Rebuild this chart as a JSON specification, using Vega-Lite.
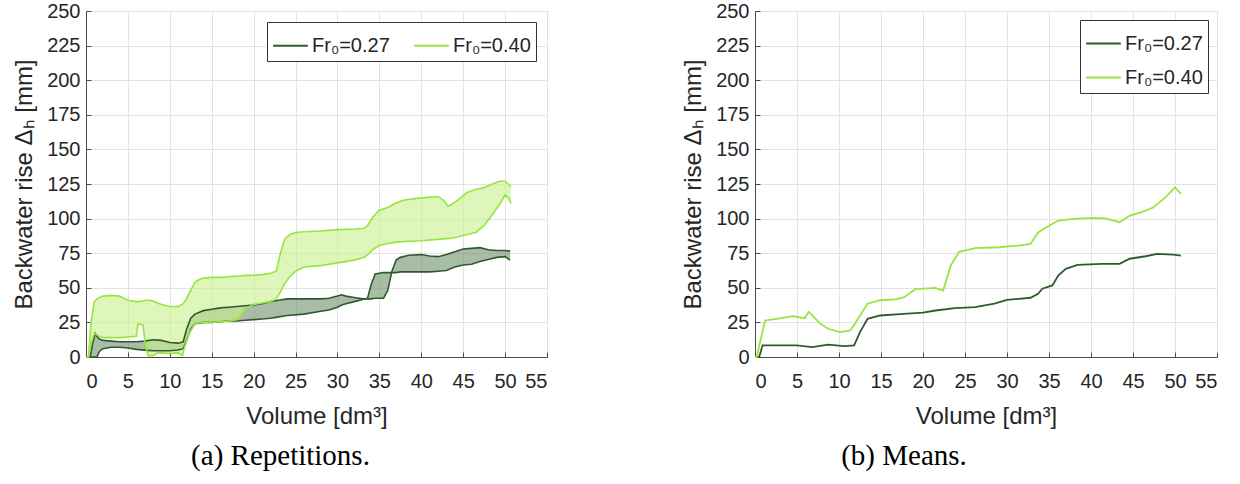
{
  "$schema": "https://vega.github.io/schema/vega-lite/v6.json",
  "background": "white",
  "padding": {"left": 12, "top": 0, "right": 5, "bottom": 5},
  "spacing": 133,
  "config": {
    "view": {"stroke": "#a0a0a0", "strokeWidth": 1},
    "axis": {
      "labelFont": "Liberation Sans", "labelFontSize": 20, "labelColor": "#262626", "labelOverlap": false,
      "titleFont": "Liberation Sans", "titleFontSize": 24, "titleFontWeight": "normal", "titleColor": "#262626",
      "gridColor": "#e3e3e3", "domainColor": "#4a4a4a", "tickColor": "#4a4a4a", "tickSize": -5
    },
    "legend": {
      "labelFont": "Liberation Sans", "labelFontSize": 20, "labelColor": "#262626",
      "strokeColor": "#333333", "fillColor": "white", "padding": 5,
      "symbolType": "stroke", "symbolSize": 1200, "symbolStrokeWidth": 2, "labelOffset": 3
    },
    "title": {"font": "Liberation Serif", "fontSize": 29, "fontWeight": "normal", "color": "#000000"}
  },
  "resolve": {"legend": {"color": "independent"}, "scale": {"color": "independent", "fill": "independent"}},
  "datasets": {
    "rep": [
      {"s": "Fr₀=0.27", "x": 0, "y1": 0, "y2": 0},
      {"s": "Fr₀=0.27", "x": 0.5, "y1": 0, "y2": 0},
      {"s": "Fr₀=0.27", "x": 0.8, "y1": 10, "y2": 0},
      {"s": "Fr₀=0.27", "x": 1.1, "y1": 17, "y2": 0},
      {"s": "Fr₀=0.27", "x": 1.3, "y1": 15, "y2": 0},
      {"s": "Fr₀=0.27", "x": 1.6, "y1": 13, "y2": 4},
      {"s": "Fr₀=0.27", "x": 2, "y1": 12, "y2": 6},
      {"s": "Fr₀=0.27", "x": 3, "y1": 11.5, "y2": 7},
      {"s": "Fr₀=0.27", "x": 4, "y1": 11, "y2": 7},
      {"s": "Fr₀=0.27", "x": 5, "y1": 11, "y2": 6.5},
      {"s": "Fr₀=0.27", "x": 6, "y1": 11, "y2": 5.5},
      {"s": "Fr₀=0.27", "x": 7, "y1": 11.5, "y2": 5},
      {"s": "Fr₀=0.27", "x": 8, "y1": 12.5, "y2": 4.5},
      {"s": "Fr₀=0.27", "x": 9, "y1": 12, "y2": 4.5},
      {"s": "Fr₀=0.27", "x": 10, "y1": 10.5, "y2": 4.5},
      {"s": "Fr₀=0.27", "x": 11, "y1": 10, "y2": 5},
      {"s": "Fr₀=0.27", "x": 11.6, "y1": 11, "y2": 6},
      {"s": "Fr₀=0.27", "x": 12, "y1": 20, "y2": 12},
      {"s": "Fr₀=0.27", "x": 12.5, "y1": 28, "y2": 20},
      {"s": "Fr₀=0.27", "x": 13, "y1": 31, "y2": 24},
      {"s": "Fr₀=0.27", "x": 14, "y1": 33.5, "y2": 25},
      {"s": "Fr₀=0.27", "x": 15, "y1": 34.5, "y2": 25},
      {"s": "Fr₀=0.27", "x": 16, "y1": 35.5, "y2": 25.5},
      {"s": "Fr₀=0.27", "x": 17, "y1": 36, "y2": 26},
      {"s": "Fr₀=0.27", "x": 18, "y1": 36.5, "y2": 26},
      {"s": "Fr₀=0.27", "x": 19, "y1": 37, "y2": 26.5},
      {"s": "Fr₀=0.27", "x": 20, "y1": 37.5, "y2": 27},
      {"s": "Fr₀=0.27", "x": 21, "y1": 38.5, "y2": 27.5},
      {"s": "Fr₀=0.27", "x": 22, "y1": 40, "y2": 28},
      {"s": "Fr₀=0.27", "x": 23, "y1": 41, "y2": 29},
      {"s": "Fr₀=0.27", "x": 24, "y1": 42, "y2": 30},
      {"s": "Fr₀=0.27", "x": 26, "y1": 42, "y2": 31},
      {"s": "Fr₀=0.27", "x": 28, "y1": 42, "y2": 33},
      {"s": "Fr₀=0.27", "x": 29, "y1": 42.5, "y2": 34},
      {"s": "Fr₀=0.27", "x": 30, "y1": 44, "y2": 36},
      {"s": "Fr₀=0.27", "x": 30.5, "y1": 45, "y2": 37.5},
      {"s": "Fr₀=0.27", "x": 31, "y1": 44, "y2": 38.5},
      {"s": "Fr₀=0.27", "x": 32, "y1": 43, "y2": 40},
      {"s": "Fr₀=0.27", "x": 33, "y1": 42, "y2": 41.5},
      {"s": "Fr₀=0.27", "x": 33.6, "y1": 42, "y2": 42.5},
      {"s": "Fr₀=0.27", "x": 34, "y1": 42, "y2": 52},
      {"s": "Fr₀=0.27", "x": 34.5, "y1": 42.5, "y2": 60},
      {"s": "Fr₀=0.27", "x": 35.5, "y1": 42.5, "y2": 61},
      {"s": "Fr₀=0.27", "x": 36, "y1": 48, "y2": 61},
      {"s": "Fr₀=0.27", "x": 36.5, "y1": 62, "y2": 61},
      {"s": "Fr₀=0.27", "x": 37, "y1": 70, "y2": 61},
      {"s": "Fr₀=0.27", "x": 37.5, "y1": 72, "y2": 61.5},
      {"s": "Fr₀=0.27", "x": 38.5, "y1": 73.5, "y2": 61.5},
      {"s": "Fr₀=0.27", "x": 40, "y1": 74, "y2": 61.5},
      {"s": "Fr₀=0.27", "x": 41, "y1": 73, "y2": 61.5},
      {"s": "Fr₀=0.27", "x": 42, "y1": 72.5, "y2": 62},
      {"s": "Fr₀=0.27", "x": 43, "y1": 74, "y2": 62.5},
      {"s": "Fr₀=0.27", "x": 44, "y1": 76, "y2": 65},
      {"s": "Fr₀=0.27", "x": 45, "y1": 78, "y2": 66.5},
      {"s": "Fr₀=0.27", "x": 46, "y1": 78.5, "y2": 67},
      {"s": "Fr₀=0.27", "x": 47, "y1": 79, "y2": 69},
      {"s": "Fr₀=0.27", "x": 48, "y1": 77.5, "y2": 70.5},
      {"s": "Fr₀=0.27", "x": 49, "y1": 77, "y2": 72},
      {"s": "Fr₀=0.27", "x": 50, "y1": 77, "y2": 72.5},
      {"s": "Fr₀=0.27", "x": 50.6, "y1": 76.5, "y2": 70},
      {"s": "Fr₀=0.40", "x": 0, "y1": 0, "y2": 0},
      {"s": "Fr₀=0.40", "x": 0.3, "y1": 0, "y2": 0},
      {"s": "Fr₀=0.40", "x": 0.6, "y1": 25, "y2": 10},
      {"s": "Fr₀=0.40", "x": 1, "y1": 40, "y2": 17},
      {"s": "Fr₀=0.40", "x": 1.3, "y1": 42, "y2": 16},
      {"s": "Fr₀=0.40", "x": 2, "y1": 44, "y2": 14},
      {"s": "Fr₀=0.40", "x": 3, "y1": 44.5, "y2": 14},
      {"s": "Fr₀=0.40", "x": 4, "y1": 44, "y2": 14},
      {"s": "Fr₀=0.40", "x": 5, "y1": 41, "y2": 14.5},
      {"s": "Fr₀=0.40", "x": 6, "y1": 40, "y2": 15},
      {"s": "Fr₀=0.40", "x": 6.2, "y1": 40, "y2": 24},
      {"s": "Fr₀=0.40", "x": 6.8, "y1": 40.5, "y2": 23},
      {"s": "Fr₀=0.40", "x": 7.1, "y1": 41, "y2": 8},
      {"s": "Fr₀=0.40", "x": 7.4, "y1": 41, "y2": 1},
      {"s": "Fr₀=0.40", "x": 8, "y1": 40.5, "y2": 1},
      {"s": "Fr₀=0.40", "x": 8.5, "y1": 39, "y2": 3},
      {"s": "Fr₀=0.40", "x": 9, "y1": 38, "y2": 3},
      {"s": "Fr₀=0.40", "x": 10, "y1": 36.5, "y2": 2.5},
      {"s": "Fr₀=0.40", "x": 11, "y1": 36.5, "y2": 3},
      {"s": "Fr₀=0.40", "x": 11.5, "y1": 38, "y2": 1},
      {"s": "Fr₀=0.40", "x": 11.8, "y1": 40, "y2": 8},
      {"s": "Fr₀=0.40", "x": 12.3, "y1": 46, "y2": 17},
      {"s": "Fr₀=0.40", "x": 13, "y1": 54, "y2": 24},
      {"s": "Fr₀=0.40", "x": 13.5, "y1": 56, "y2": 25},
      {"s": "Fr₀=0.40", "x": 14, "y1": 57, "y2": 25},
      {"s": "Fr₀=0.40", "x": 15, "y1": 57.5, "y2": 25},
      {"s": "Fr₀=0.40", "x": 16, "y1": 57.5, "y2": 25.5},
      {"s": "Fr₀=0.40", "x": 17, "y1": 58, "y2": 26},
      {"s": "Fr₀=0.40", "x": 18, "y1": 58.5, "y2": 27},
      {"s": "Fr₀=0.40", "x": 18.5, "y1": 58.5, "y2": 30},
      {"s": "Fr₀=0.40", "x": 19, "y1": 59, "y2": 35},
      {"s": "Fr₀=0.40", "x": 20, "y1": 59, "y2": 38},
      {"s": "Fr₀=0.40", "x": 21, "y1": 59.5, "y2": 39},
      {"s": "Fr₀=0.40", "x": 22, "y1": 60.5, "y2": 40},
      {"s": "Fr₀=0.40", "x": 22.7, "y1": 62, "y2": 42},
      {"s": "Fr₀=0.40", "x": 23.2, "y1": 75, "y2": 47},
      {"s": "Fr₀=0.40", "x": 23.7, "y1": 85, "y2": 53},
      {"s": "Fr₀=0.40", "x": 24.3, "y1": 88.5, "y2": 58},
      {"s": "Fr₀=0.40", "x": 25, "y1": 90, "y2": 62},
      {"s": "Fr₀=0.40", "x": 26, "y1": 90.5, "y2": 65},
      {"s": "Fr₀=0.40", "x": 28, "y1": 91, "y2": 66},
      {"s": "Fr₀=0.40", "x": 30, "y1": 92, "y2": 68},
      {"s": "Fr₀=0.40", "x": 32, "y1": 92.5, "y2": 70},
      {"s": "Fr₀=0.40", "x": 33.2, "y1": 93, "y2": 72},
      {"s": "Fr₀=0.40", "x": 33.6, "y1": 95, "y2": 74},
      {"s": "Fr₀=0.40", "x": 34.2, "y1": 101, "y2": 77.5},
      {"s": "Fr₀=0.40", "x": 35, "y1": 106, "y2": 80.5},
      {"s": "Fr₀=0.40", "x": 36, "y1": 108, "y2": 82},
      {"s": "Fr₀=0.40", "x": 37, "y1": 111.5, "y2": 83},
      {"s": "Fr₀=0.40", "x": 38, "y1": 113.5, "y2": 83.5},
      {"s": "Fr₀=0.40", "x": 40, "y1": 115, "y2": 84},
      {"s": "Fr₀=0.40", "x": 42, "y1": 116, "y2": 85},
      {"s": "Fr₀=0.40", "x": 42.7, "y1": 113, "y2": 85.5},
      {"s": "Fr₀=0.40", "x": 43.2, "y1": 109, "y2": 85.5},
      {"s": "Fr₀=0.40", "x": 43.8, "y1": 111, "y2": 86},
      {"s": "Fr₀=0.40", "x": 44.5, "y1": 114, "y2": 87},
      {"s": "Fr₀=0.40", "x": 45.5, "y1": 119, "y2": 88.5},
      {"s": "Fr₀=0.40", "x": 46.5, "y1": 121, "y2": 90},
      {"s": "Fr₀=0.40", "x": 47.5, "y1": 122.5, "y2": 95},
      {"s": "Fr₀=0.40", "x": 48.5, "y1": 125, "y2": 103},
      {"s": "Fr₀=0.40", "x": 49.3, "y1": 127, "y2": 110},
      {"s": "Fr₀=0.40", "x": 50, "y1": 127, "y2": 117},
      {"s": "Fr₀=0.40", "x": 50.4, "y1": 125, "y2": 115},
      {"s": "Fr₀=0.40", "x": 50.7, "y1": 123, "y2": 111}
    ],
    "mean": [
      {"s": "Fr₀=0.27", "x": 0, "y": 0},
      {"s": "Fr₀=0.27", "x": 0.5, "y": 0},
      {"s": "Fr₀=0.27", "x": 0.9, "y": 8.4},
      {"s": "Fr₀=0.27", "x": 2.6, "y": 8.4},
      {"s": "Fr₀=0.27", "x": 5, "y": 8.4},
      {"s": "Fr₀=0.27", "x": 6.8, "y": 7.2},
      {"s": "Fr₀=0.27", "x": 8.7, "y": 8.9},
      {"s": "Fr₀=0.27", "x": 10.6, "y": 7.8},
      {"s": "Fr₀=0.27", "x": 11.8, "y": 8.4},
      {"s": "Fr₀=0.27", "x": 12.5, "y": 18},
      {"s": "Fr₀=0.27", "x": 13.4, "y": 27.6},
      {"s": "Fr₀=0.27", "x": 14.9, "y": 30},
      {"s": "Fr₀=0.27", "x": 17.7, "y": 31.2},
      {"s": "Fr₀=0.27", "x": 20, "y": 32},
      {"s": "Fr₀=0.27", "x": 21.5, "y": 33.6},
      {"s": "Fr₀=0.27", "x": 23.8, "y": 35.3},
      {"s": "Fr₀=0.27", "x": 26.2, "y": 36},
      {"s": "Fr₀=0.27", "x": 28.5, "y": 38.5},
      {"s": "Fr₀=0.27", "x": 30, "y": 41.3},
      {"s": "Fr₀=0.27", "x": 32.8, "y": 42.8},
      {"s": "Fr₀=0.27", "x": 33.7, "y": 45.7},
      {"s": "Fr₀=0.27", "x": 34.2, "y": 49.3},
      {"s": "Fr₀=0.27", "x": 35.4, "y": 51.7},
      {"s": "Fr₀=0.27", "x": 36.1, "y": 58.9},
      {"s": "Fr₀=0.27", "x": 37, "y": 63.7},
      {"s": "Fr₀=0.27", "x": 38.4, "y": 66.6},
      {"s": "Fr₀=0.27", "x": 41.3, "y": 67.3},
      {"s": "Fr₀=0.27", "x": 43.4, "y": 67.3},
      {"s": "Fr₀=0.27", "x": 44.6, "y": 71},
      {"s": "Fr₀=0.27", "x": 46.5, "y": 72.8},
      {"s": "Fr₀=0.27", "x": 47.9, "y": 74.5},
      {"s": "Fr₀=0.27", "x": 49.8, "y": 74},
      {"s": "Fr₀=0.27", "x": 50.7, "y": 73.3},
      {"s": "Fr₀=0.40", "x": 0, "y": 0},
      {"s": "Fr₀=0.40", "x": 0.2, "y": 0},
      {"s": "Fr₀=0.40", "x": 1.2, "y": 26.4},
      {"s": "Fr₀=0.40", "x": 2.6, "y": 27.6},
      {"s": "Fr₀=0.40", "x": 4.5, "y": 29.5},
      {"s": "Fr₀=0.40", "x": 5.9, "y": 28},
      {"s": "Fr₀=0.40", "x": 6.4, "y": 32.5},
      {"s": "Fr₀=0.40", "x": 6.8, "y": 30},
      {"s": "Fr₀=0.40", "x": 7.8, "y": 24},
      {"s": "Fr₀=0.40", "x": 8.7, "y": 20.4},
      {"s": "Fr₀=0.40", "x": 10.1, "y": 18},
      {"s": "Fr₀=0.40", "x": 11.3, "y": 19},
      {"s": "Fr₀=0.40", "x": 11.8, "y": 23},
      {"s": "Fr₀=0.40", "x": 12.5, "y": 30},
      {"s": "Fr₀=0.40", "x": 13.4, "y": 38.5},
      {"s": "Fr₀=0.40", "x": 14.9, "y": 41},
      {"s": "Fr₀=0.40", "x": 16.7, "y": 41.6},
      {"s": "Fr₀=0.40", "x": 17.7, "y": 43},
      {"s": "Fr₀=0.40", "x": 19.1, "y": 49},
      {"s": "Fr₀=0.40", "x": 21.5, "y": 50},
      {"s": "Fr₀=0.40", "x": 22.4, "y": 48},
      {"s": "Fr₀=0.40", "x": 22.6, "y": 52},
      {"s": "Fr₀=0.40", "x": 23.3, "y": 66},
      {"s": "Fr₀=0.40", "x": 24.3, "y": 76},
      {"s": "Fr₀=0.40", "x": 26.2, "y": 78.6},
      {"s": "Fr₀=0.40", "x": 29, "y": 79.3},
      {"s": "Fr₀=0.40", "x": 31.4, "y": 80.5},
      {"s": "Fr₀=0.40", "x": 32.8, "y": 81.7},
      {"s": "Fr₀=0.40", "x": 33.7, "y": 90},
      {"s": "Fr₀=0.40", "x": 34.7, "y": 93.8},
      {"s": "Fr₀=0.40", "x": 36.1, "y": 98.6},
      {"s": "Fr₀=0.40", "x": 38, "y": 99.8},
      {"s": "Fr₀=0.40", "x": 40.3, "y": 100.5},
      {"s": "Fr₀=0.40", "x": 41.7, "y": 100.2},
      {"s": "Fr₀=0.40", "x": 43.4, "y": 97.4},
      {"s": "Fr₀=0.40", "x": 44.6, "y": 102},
      {"s": "Fr₀=0.40", "x": 46, "y": 104.6},
      {"s": "Fr₀=0.40", "x": 47.4, "y": 108},
      {"s": "Fr₀=0.40", "x": 48.8, "y": 115},
      {"s": "Fr₀=0.40", "x": 50, "y": 122.6},
      {"s": "Fr₀=0.40", "x": 50.7, "y": 117.8}
    ]
  },
  "hconcat": [
    {
      "width": 461,
      "height": 346,
      "title": {"text": "(a) Repetitions.", "orient": "bottom", "offset": 14, "dx": -36},
      "data": {"name": "rep"},
      "encoding": {
        "x": {"field": "x", "type": "quantitative", "scale": {"domain": [0, 55], "nice": false},
              "axis": {"values": [0,5,10,15,20,25,30,35,40,45,50,55], "title": "Volume [dm³]", "labelPadding": 19, "titlePadding": 13, "labelOverlap": false}}
      },
      "layer": [
        {
          "mark": {"type": "area", "opacity": 0.6},
          "encoding": {
            "y": {"field": "y1", "type": "quantitative", "scale": {"domain": [0, 250], "nice": false},
                  "axis": {"values": [0,25,50,75,100,125,150,175,200,225,250], "title": "Backwater rise Δₕ [mm]", "labelPadding": 11, "titlePadding": 10, "labelOverlap": false}},
            "y2": {"field": "y2"},
            "fill": {"field": "s", "type": "nominal", "scale": {"domain": ["Fr₀=0.40", "Fr₀=0.27"], "range": ["#c8f08c", "#6e8f6b"]}, "legend": null}
          }
        },
        {
          "mark": {"type": "line", "strokeWidth": 1.6},
          "encoding": {
            "y": {"field": "y1", "type": "quantitative",
                  "axis": {"values": [0,25,50,75,100,125,150,175,200,225,250], "title": "Backwater rise Δₕ [mm]", "labelPadding": 11, "titlePadding": 10, "labelOverlap": false}},
            "color": {"field": "s", "type": "nominal", "scale": {"domain": ["Fr₀=0.27", "Fr₀=0.40"], "range": ["#2e5b2e", "#97e63e"]},
                      "legend": {"title": null, "orient": "top-right", "direction": "horizontal", "offset": 11, "columnPadding": 20}}
          }
        },
        {
          "mark": {"type": "line", "strokeWidth": 1.6},
          "encoding": {
            "y": {"field": "y2", "type": "quantitative",
                  "axis": {"values": [0,25,50,75,100,125,150,175,200,225,250], "title": "Backwater rise Δₕ [mm]", "labelPadding": 11, "titlePadding": 10, "labelOverlap": false}},
            "color": {"field": "s", "type": "nominal"}
          }
        }
      ]
    },
    {
      "width": 462,
      "height": 346,
      "title": {"text": "(b) Means.", "orient": "bottom", "offset": 14, "dx": -82},
      "data": {"name": "mean"},
      "mark": {"type": "line", "strokeWidth": 1.8},
      "encoding": {
        "x": {"field": "x", "type": "quantitative", "scale": {"domain": [0, 55], "nice": false},
              "axis": {"values": [0,5,10,15,20,25,30,35,40,45,50,55], "title": "Volume [dm³]", "labelPadding": 19, "titlePadding": 13}},
        "y": {"field": "y", "type": "quantitative", "scale": {"domain": [0, 250], "nice": false},
              "axis": {"values": [0,25,50,75,100,125,150,175,200,225,250], "title": "Backwater rise Δₕ [mm]", "labelPadding": 11, "titlePadding": 10}},
        "color": {"field": "s", "type": "nominal", "scale": {"domain": ["Fr₀=0.27", "Fr₀=0.40"], "range": ["#2e5b2e", "#97e63e"]},
                  "legend": {"title": null, "orient": "top-right", "direction": "vertical", "offset": 9, "rowPadding": 5}}
      }
    }
  ]
}
